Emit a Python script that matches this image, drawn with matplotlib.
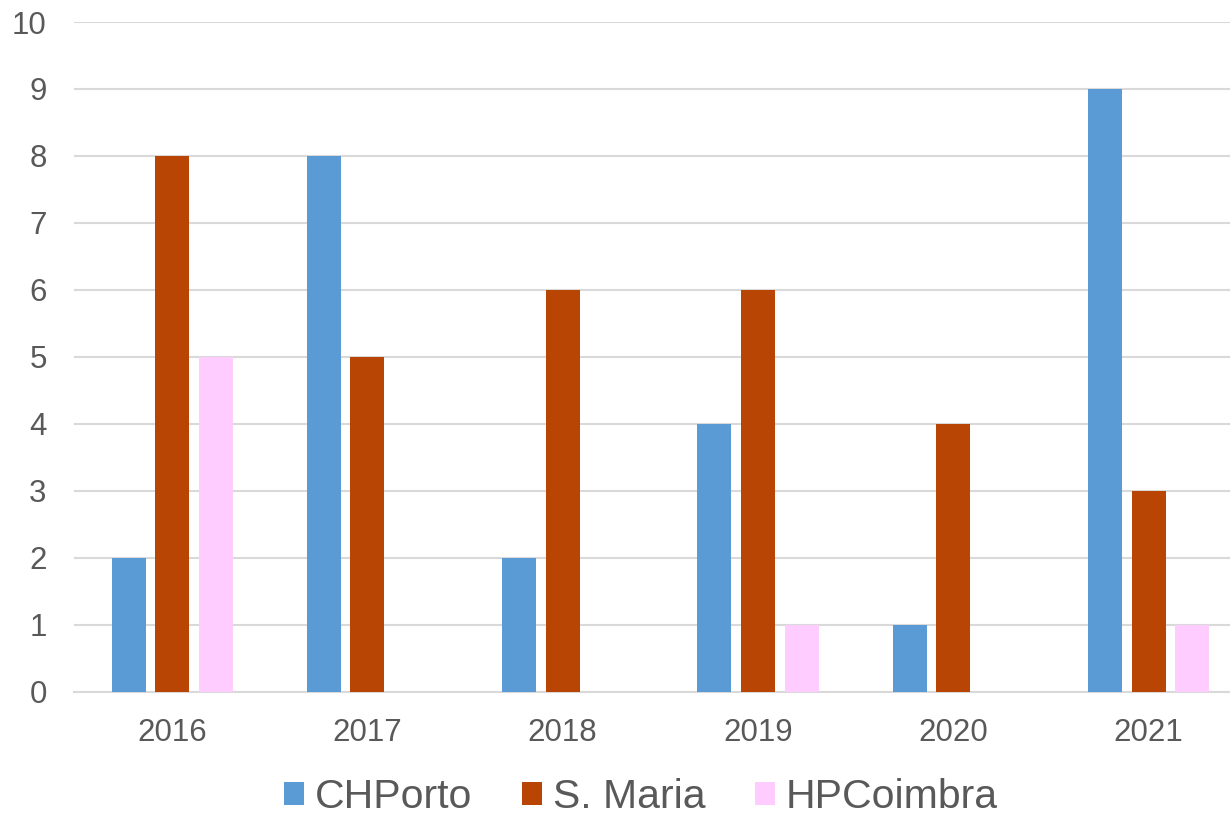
import numpy as np
import matplotlib.pyplot as plt

plt.rcParams['font.family'] = ['Liberation Sans', 'DejaVu Sans']

# dados
anos = ['2016', '2017', '2018', '2019', '2020', '2021']
chporto = [2, 8, 2, 4, 1, 9]
s_maria = [8, 5, 6, 6, 4, 3]
hpcoimbra = [5, 0, 0, 1, 0, 1]

series = [('CHPorto', chporto, '#5b9bd5'),
          ('S. Maria', s_maria, '#b94505'),
          ('HPCoimbra', hpcoimbra, '#ffccff')]

fig = plt.figure(figsize=(12.3, 8.15), dpi=100)
# o eixo continua um pouco para lá da margem direita, como no original
ax = fig.add_axes([0.0605, 0.151, 0.9527, 0.822])

x = np.arange(len(anos))
w = 0.174
step = 0.223
for i, (nome, vals, cor) in enumerate(series):
    ax.bar(x + (i - 1) * step, vals, width=w, color=cor, label=nome, zorder=3)

ax.set_xlim(-0.5, len(anos) - 0.5)
ax.set_ylim(0, 10)
ax.set_yticks(range(0, 11))
ax.set_xticks(x)
ax.set_xticklabels(anos)
ax.tick_params(length=0, labelsize=22.5, colors='#595959')
ax.tick_params(axis='x', pad=19)
ax.tick_params(axis='y', pad=20)
ax.grid(axis='y', color='#d9d9d9', linewidth=1.5, zorder=0)
for s in ['top', 'right', 'left']:
    ax.spines[s].set_visible(False)
ax.spines['bottom'].set_color('#d9d9d9')
ax.spines['bottom'].set_linewidth(1.5)

leg = fig.legend(loc='center', bbox_to_anchor=(0.521, 0.022), ncol=3, frameon=False,
                 fontsize=29.5, handlelength=0.5, handleheight=0.5, handletextpad=0.26,
                 columnspacing=1.2, labelcolor='#595959')

fig.savefig('out.png', dpi=100)
